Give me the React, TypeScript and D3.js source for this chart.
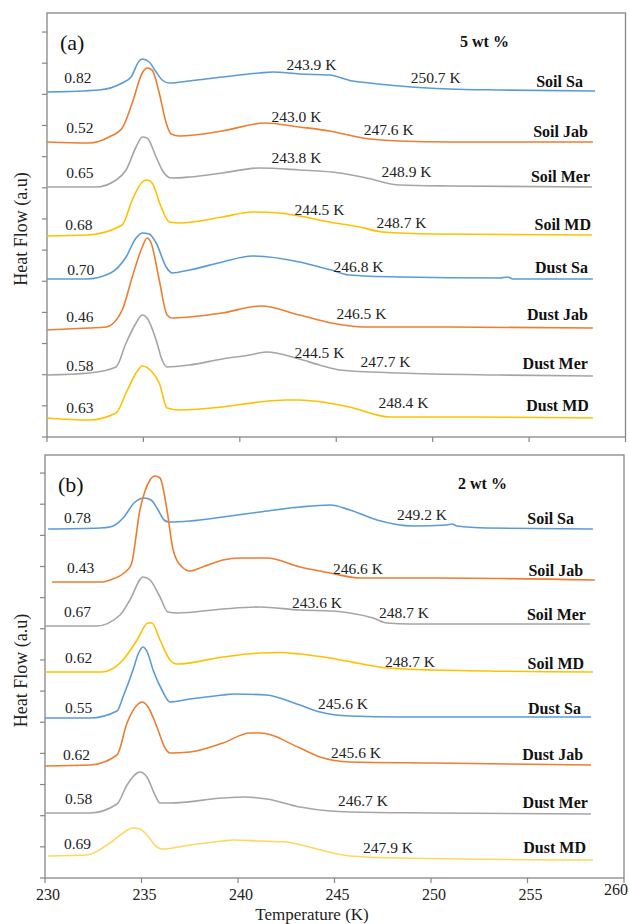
import React from "react";
import * as d3 from "d3";

// DSC heat flow curves. Each point is [temperature K, heat flow a.u.]
const seriesNames = ["Soil Sa", "Soil Jab", "Soil Mer", "Soil MD", "Dust Sa", "Dust Jab", "Dust Mer", "Dust MD"];
const tempTicks = [230, 235, 240, 245, 250, 255, 260];

// ---- (a) 5 wt %
const soilSaA = [[230, 345], [232.7, 347], [233.9, 354], [234.36, 360], [234.78, 376], [234.94, 378], [235.3, 375], [235.66, 365], [235.97, 357], [236.34, 354], [237.38, 356], [239.09, 360], [241.01, 364], [241.69, 365], [243.09, 363], [244.65, 362], [245.84, 356], [246.73, 354], [248.29, 351], [250.88, 348], [253.48, 347], [258.42, 346]];
const soilJabA = [[230, 295], [232.18, 294], [233.22, 300], [233.9, 309], [234.42, 334], [234.94, 364], [235.19, 369], [235.45, 367], [235.82, 344], [236.18, 314], [236.44, 303], [236.86, 301], [239.09, 306], [241.3, 314], [243.09, 310], [244.65, 306], [246.36, 299], [248.29, 296], [250.88, 295], [258.31, 295]];
const soilMerA = [[230, 250], [232.55, 250], [233.58, 257], [234.1, 267], [234.62, 290], [234.94, 300], [235.19, 299], [235.66, 280], [235.97, 267], [236.44, 259], [237.38, 260], [239.09, 264], [241.01, 269], [243.09, 267], [245.17, 264], [246.57, 259], [248.29, 252], [250.88, 251], [258.26, 250]];
const soilMDA = [[230, 201], [232.1, 202], [233.9, 212], [234.42, 237], [234.94, 255], [235.19, 257], [235.45, 254], [235.92, 230], [236.34, 215], [236.86, 214], [239.09, 220], [240.65, 225], [242.05, 224], [243.09, 221], [244.65, 215], [246.21, 210], [247.4, 205], [250.0, 203], [258.26, 202]];
const dustSaA = [[230, 158], [232.03, 158], [233.3, 164], [234.1, 180], [234.62, 199], [234.94, 204], [235.3, 203], [235.66, 194], [236.18, 170], [236.49, 164], [237.38, 167], [239.09, 175], [240.65, 181], [243.09, 175], [244.13, 170], [244.75, 167], [245.63, 162], [248.29, 160], [253.48, 159], [253.9, 160], [254.16, 158], [258.31, 158]];
const dustJabA = [[230, 107], [232.18, 109], [233.06, 110], [233.9, 127], [234.42, 160], [234.94, 190], [235.19, 199], [235.4, 194], [235.82, 157], [236.23, 122], [236.49, 119], [237.38, 120], [239.09, 124], [241.1, 131], [243.09, 122], [244.75, 114], [246.47, 110], [250, 110], [258.31, 109]];
const dustMerA = [[230, 62], [232.18, 64], [233.58, 70], [234.1, 94], [234.62, 114], [234.94, 122], [235.19, 119], [235.66, 97], [235.97, 77], [236.23, 70], [237.38, 72], [239.09, 78], [240.5, 82], [241.38, 85], [243.09, 78], [244.13, 72], [245.17, 67], [248.29, 64], [253.48, 62], [258.31, 61]];
const dustMDA = [[230, 19], [232.18, 17], [233.58, 24], [234.1, 44], [234.62, 64], [234.94, 71], [235.45, 65], [235.82, 54], [236.23, 29], [236.86, 27], [239.09, 30], [241.01, 35], [242.36, 37], [243.09, 37], [245.69, 30], [247.77, 20], [251.77, 20], [258.31, 19]];

const ratiosA = ["0.82", "0.52", "0.65", "0.68", "0.70", "0.46", "0.58", "0.63"];
const ratioPosA = [[230.9, 354], [231.0, 304], [231.0, 259], [230.95, 207], [231.05, 162], [231.0, 115], [231.0, 66], [231.0, 24]];
const labelPosA = [[257.79, 350], [258.05, 300], [258.16, 255], [258.21, 207], [258.05, 164], [258.05, 117], [258.05, 68], [258.1, 26]];
const notesA = [
  ["243.9 K", 242.42, 367], ["250.7 K", 248.86, 354],
  ["243.0 K", 241.64, 315], ["247.6 K", 246.42, 302],
  ["243.8 K", 241.64, 274], ["248.9 K", 247.35, 260],
  ["244.5 K", 242.83, 222], ["248.7 K", 247.09, 209],
  ["246.8 K", 244.86, 165],
  ["246.5 K", 245.01, 118],
  ["244.5 K", 242.83, 79], ["247.7 K", 246.26, 70],
  ["248.4 K", 247.19, 29],
];

// ---- (b) 2 wt %
const soilSaB = [[230.16, 349], [232.85, 350], [233.37, 351], [233.63, 353], [234.09, 361], [234.61, 375], [235.13, 380], [235.49, 378], [235.86, 368], [236.17, 358], [236.43, 356], [237.51, 357], [239.22, 361], [241.14, 366], [243.21, 371], [244.77, 373], [245.8, 368], [247.2, 358], [249.07, 352], [250.83, 353], [251.09, 354], [251.35, 352], [252.9, 350], [258.39, 349]];
const soilJabB = [[230.36, 296], [233.0, 296], [233.37, 298], [234.09, 305], [234.46, 313], [234.92, 368], [235.44, 398], [235.7, 402], [235.96, 400], [236.32, 368], [236.64, 328], [237.1, 311], [237.51, 307], [238.03, 310], [239.22, 318], [240.1, 320], [241.5, 320], [243.21, 311], [244.77, 305], [246.32, 300], [250.1, 300], [258.49, 298]];
const soilMerB = [[230, 252], [232.66, 252], [233.89, 263], [234.4, 278], [235.08, 301], [235.44, 298], [235.96, 281], [236.37, 266], [236.84, 265], [239.22, 269], [241.14, 271], [243.21, 268], [244.92, 267], [245.8, 265], [247.0, 260], [247.72, 255], [248.91, 254], [258.24, 254]];
const soilMDB = [[230, 206], [232.95, 206], [233.37, 208], [234.04, 218], [234.77, 238], [235.34, 255], [235.54, 255], [235.96, 238], [236.48, 218], [236.84, 214], [239.22, 221], [241.14, 225], [242.18, 225.5], [243.21, 224], [244.77, 220], [246.68, 213], [247.72, 210], [250.1, 208], [258.39, 206]];
const dustSaB = [[230, 160], [232.33, 160], [233.73, 167], [234.04, 181], [234.56, 208], [234.85, 225], [235.08, 231], [235.32, 225], [235.6, 208], [236.06, 188], [236.48, 176], [237.51, 179], [239.22, 183], [239.74, 184], [241.45, 183], [243.21, 173], [244.25, 166], [245.8, 162], [248.39, 161], [258.29, 161]];
const dustJabB = [[230, 112], [232.33, 113], [233.73, 123], [234.25, 155], [234.77, 173], [235.03, 176], [235.34, 171], [235.8, 151], [236.22, 130], [236.48, 125], [237.51, 126], [239.22, 135], [240.62, 145], [241.14, 145], [243.21, 130], [244.25, 121], [245.8, 116], [250.1, 115], [258.29, 113]];
const dustMerB = [[230, 65], [232.33, 65], [233.73, 74], [234.25, 93], [234.77, 105], [234.92, 106], [235.28, 101], [235.7, 83], [235.96, 75], [236.48, 75], [239.22, 80], [240.3, 81], [241.5, 79], [243.21, 71], [244.77, 67], [245.8, 66], [250.1, 65], [258.29, 64]];
const dustMDB = [[230.16, 22], [232.17, 23], [233.37, 35], [234.04, 45], [234.56, 50], [234.92, 49], [235.28, 43], [235.8, 31], [236.06, 29], [237.51, 33], [239.22, 37], [239.74, 38], [241.14, 37], [242.5, 36], [243.5, 32], [244.5, 27], [245.8, 22], [248.39, 20], [258.39, 18]];

const ratiosB = ["0.78", "0.43", "0.67", "0.62", "0.55", "0.62", "0.58", "0.69"];
const ratioPosB = [[230.98, 355], [231.14, 305], [230.98, 261], [231.04, 215], [231.04, 165], [230.93, 118], [231.04, 74], [230.98, 29]];
const labelPosB = [[257.41, 354], [257.88, 302], [258.03, 258], [257.93, 209], [257.77, 164], [257.88, 118], [258.13, 70], [258.03, 25]];
const notesB = [
  ["249.2 K", 248.24, 358],
  ["246.6 K", 244.92, 304],
  ["243.6 K", 242.8, 270], ["248.7 K", 247.31, 260],
  ["248.7 K", 247.62, 211],
  ["245.6 K", 244.15, 169],
  ["245.6 K", 244.82, 120],
  ["246.7 K", 245.18, 72],
  ["247.9 K", 246.48, 25],
];

const colorsA = ["#5B9BD5", "#ED7D31", "#A5A5A5", "#FFC000", "#5B9BD5", "#ED7D31", "#A5A5A5", "#FFC000"];
const colorsB = ["#5B9BD5", "#ED7D31", "#A5A5A5", "#FFC000", "#5B9BD5", "#ED7D31", "#A5A5A5", "#FFD75E"];

const FONT = "'Liberation Serif', 'Times New Roman', serif";
const AXIS = "#868686";

function Panel({ left, right, top, bottom, curves, colors, ratios, ratioPos, labelPos, notes, tag, wt, tickLabels }) {
  const x = d3.scaleLinear().domain([230, 260]).range([left, right]);
  const y = d3.scaleLinear().domain([0, bottom - top]).range([bottom, top]);
  const line = d3.line().x(d => x(d[0])).y(d => y(d[1])).curve(d3.curveMonotoneX);
  const yTicks = d3.range(0, bottom - top, 31.15);

  return (
    <g>
      <rect x={left} y={top} width={right - left} height={bottom - top} fill="none" stroke={AXIS} strokeWidth={1.3} />
      {yTicks.map((t, i) => (
        <line key={"yt" + i} x1={left - 5} x2={left} y1={y(t)} y2={y(t)} stroke={AXIS} strokeWidth={1.2} />
      ))}
      {tempTicks.map(t => (
        <line key={"xt" + t} x1={x(t)} x2={x(t)} y1={bottom} y2={bottom + 5} stroke={AXIS} strokeWidth={1.2} />
      ))}
      {tickLabels && tempTicks.map((t, i) => {
        // the last label sits a little inward and higher, as in the original
        const last = i === tempTicks.length - 1;
        return (
          <text key={"xl" + t} x={x(t) + (last ? -8 : 3)} y={bottom + (last ? 17 : 22)} textAnchor="middle" fontSize={16} fontFamily={FONT} fill="#222">{t}</text>
        );
      })}

      {curves.map((c, i) => (
        <path key={"c" + i} d={line(c)} fill="none" stroke={colors[i]} strokeWidth={1.6} />
      ))}

      {ratios.map((r, i) => (
        <text key={"r" + i} x={x(ratioPos[i][0])} y={y(ratioPos[i][1])} fontSize={15.5} fontFamily={FONT} fill="#222">{r}</text>
      ))}
      {seriesNames.map((s, i) => (
        <text key={"s" + i} x={x(labelPos[i][0])} y={y(labelPos[i][1])} textAnchor="end" fontSize={16} fontWeight="bold" fontFamily={FONT} fill="#111">{s}</text>
      ))}
      {notes.map((n, i) => (
        <text key={"n" + i} x={x(n[1])} y={y(n[2])} fontSize={15.5} fontFamily={FONT} fill="#222">{n[0]}</text>
      ))}

      <text x={left + 13} y={top + 37} fontSize={22} fontFamily={FONT} fill="#111">{tag}</text>
      <text x={left + 413} y={top + 34} fontSize={16} fontWeight="bold" fontFamily={FONT} fill="#111">{wt}</text>

      <text transform={`translate(27,${(top + bottom) / 2 + 4}) rotate(-90)`} textAnchor="middle" fontSize={18} fontFamily={FONT} fill="#222">Heat Flow (a.u)</text>
    </g>
  );
}

export default function App() {
  return (
    <svg width={630} height={924} style={{ position: "absolute", left: 0, top: 0, display: "block", background: "#fff" }}>
      <rect width={630} height={924} fill="#fff" />
      <Panel
        left={47} right={625.5} top={13} bottom={437}
        curves={[soilSaA, soilJabA, soilMerA, soilMDA, dustSaA, dustJabA, dustMerA, dustMDA]}
        colors={colorsA} ratios={ratiosA} ratioPos={ratioPosA} labelPos={labelPosA} notes={notesA}
        tag="(a)" wt="5 wt %" tickLabels={false}
      />
      <Panel
        left={45} right={624} top={455} bottom={878}
        curves={[soilSaB, soilJabB, soilMerB, soilMDB, dustSaB, dustJabB, dustMerB, dustMDB]}
        colors={colorsB} ratios={ratiosB} ratioPos={ratioPosB} labelPos={labelPosB} notes={notesB}
        tag="(b)" wt="2 wt %" tickLabels={true}
      />
      <text x={312} y={919.5} textAnchor="middle" fontSize={17} fontFamily={FONT} fill="#222">Temperature  (K)</text>
    </svg>
  );
}
